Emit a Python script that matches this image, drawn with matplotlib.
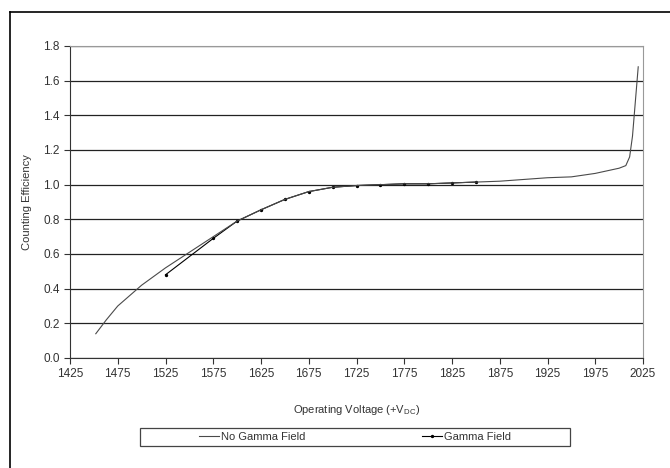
import matplotlib.pyplot as plt
from matplotlib.lines import Line2D
from matplotlib.patches import Rectangle

plt.rcParams['font.family'] = ['Liberation Sans', 'DejaVu Sans']

# counting efficiency vs operating voltage
volt_no_gamma = [1452, 1463, 1475, 1500, 1525, 1550, 1575, 1600, 1625, 1650, 1675, 1700,
                 1725, 1750, 1775, 1800, 1825, 1850, 1875, 1900, 1925, 1950, 1975,
                 2000, 2007, 2011, 2014, 2017, 2020]
eff_no_gamma = [0.14, 0.22, 0.30, 0.42, 0.52, 0.61, 0.70, 0.79, 0.855, 0.915, 0.96, 0.985,
                0.995, 1.0, 1.005, 1.005, 1.01, 1.015, 1.02, 1.03, 1.04, 1.045, 1.065,
                1.095, 1.11, 1.16, 1.28, 1.48, 1.68]

volt_gamma = [1525, 1575, 1600, 1625, 1650, 1675, 1700, 1725, 1750, 1775, 1800, 1825, 1850]
eff_gamma = [0.48, 0.69, 0.79, 0.855, 0.915, 0.96, 0.985, 0.995, 1.0, 1.005, 1.005, 1.01, 1.015]

xticks = [1425, 1475, 1525, 1575, 1625, 1675, 1725, 1775, 1825, 1875, 1925, 1975, 2025]
yticks = [0.0, 0.2, 0.4, 0.6, 0.8, 1.0, 1.2, 1.4, 1.6, 1.8]

fig = plt.figure(figsize=(6.7, 4.68), dpi=100)
ax = fig.add_axes([70 / 670, 1 - 358 / 468, 573 / 670, 312 / 468])

ax.plot(volt_gamma, eff_gamma, color='black', lw=0.8, marker='o', ms=1.4,
        label='Gamma Field', zorder=2)
ax.plot(volt_no_gamma, eff_no_gamma, color='#4a4a4a', lw=0.8, label='No Gamma Field',
        zorder=3)

ax.set_xlim(1425, 2025)
ax.set_ylim(0, 1.8)
ax.set_xticks(xticks)
ax.set_xticklabels([str(v) for v in xticks])
ax.set_yticks(yticks)
ax.set_yticklabels(['%.1f' % v for v in yticks])
ax.tick_params(labelsize=8.5, colors='#333333', length=4, width=0.8, direction='out')
ax.yaxis.grid(True, color='#222222', lw=0.9)
ax.set_axisbelow(True)

for side in ['top', 'right']:
    ax.spines[side].set_color('#999999')
ax.spines['left'].set_color('#333333')
ax.spines['bottom'].set_color('#333333')

ax.set_xlabel('Operating Voltage (+V$_{\\mathregular{DC}}$)', fontsize=8,
              color='#333333', labelpad=16)
ax.set_ylabel('Counting Efficiency', fontsize=8, color='#333333', labelpad=8)

# legend box below the axis
fig.patches.append(Rectangle((140 / 670, 1 - 446 / 468), 430 / 670, 18 / 468,
                             transform=fig.transFigure, fill=False,
                             edgecolor='#444444', lw=0.9))
handles, labels = ax.get_legend_handles_labels()
fig.legend(handles[::-1], labels[::-1], ncol=2, loc='center', frameon=False,
           bbox_to_anchor=(355 / 670, 1 - 437 / 468), fontsize=8,
           handlelength=1.8, handletextpad=0.2, columnspacing=10.5,
           labelcolor='#333333')

# outer chart frame
fig.add_artist(Line2D([10 / 670, 1], [1 - 12 / 468, 1 - 12 / 468],
                      transform=fig.transFigure, color='black', lw=1.2))
fig.add_artist(Line2D([10 / 670, 10 / 670], [0, 1 - 12 / 468],
                      transform=fig.transFigure, color='black', lw=1.2))

fig.savefig('out.png', dpi=100)
